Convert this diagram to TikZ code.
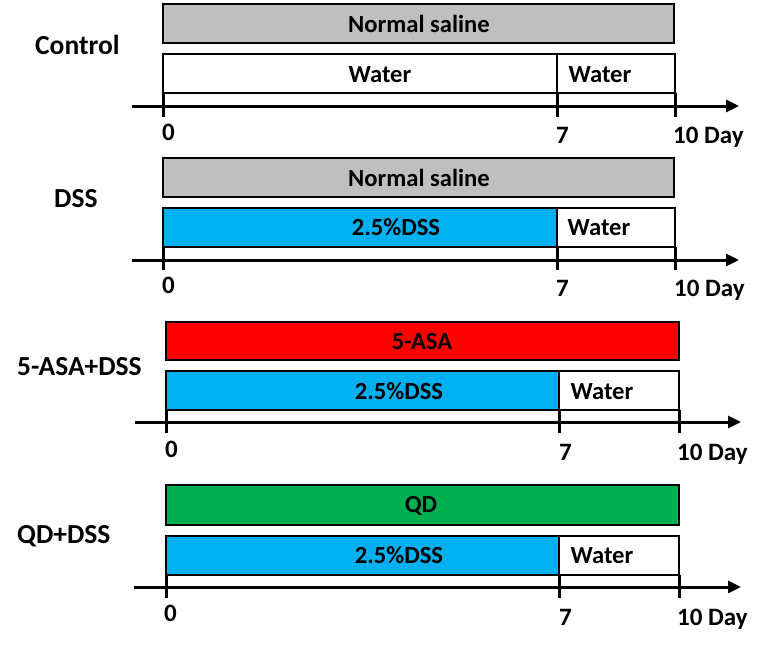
\documentclass[tikz,border=0pt]{standalone}
\usepackage{fontspec}
\setmainfont{Carlito}
\usetikzlibrary{arrows.meta}
\definecolor{salgray}{RGB}{191,191,191}
\definecolor{dssblue}{RGB}{0,176,240}
\definecolor{asared}{RGB}{255,0,0}
\definecolor{qdgreen}{RGB}{0,176,80}
\tikzset{
  bar/.style={draw=black, line width=2.8pt},
  lbl/.style={font=\fontsize{24.6}{28}\selectfont\bfseries, inner sep=0, anchor=base},
  grp/.style={font=\fontsize{27.5}{30}\selectfont\bfseries, inner sep=0, anchor=base west},
  tlbl/.style={font=\fontsize{25}{28}\selectfont\bfseries, inner sep=0, anchor=base west},
  axisline/.style={line width=3pt, -{Triangle[length=13pt,width=12pt]}},
  tickline/.style={line width=3pt},
}
\begin{document}
\begin{tikzpicture}[x=1pt,y=-1pt]
\useasboundingbox (0,0) rectangle (762,648);

% ---------------- Panel 1: Control
\filldraw[bar, fill=salgray] (163,4) rectangle (674,43);
\filldraw[bar, fill=white] (163,54) rectangle (675,93);
\draw[bar] (557,54) -- (557,93);
\coordinate (a1s) at (132,106); \coordinate (a1e) at (739,106);
\draw[axisline] (a1s) -- (a1e);
\foreach \x/\n in {163/0,557/7,675/10}{
  \coordinate (p1t\n) at (\x,93); \coordinate (p1b\n) at (\x,117);
  \draw[tickline] (p1t\n) -- (p1b\n);
}
\node[lbl] (p1sal) at (419,32) {Normal saline};
\node[lbl] (p1w1) at (380,82) {Water};
\node[lbl] (p1w2) at (600,82) {Water};
\node[grp] (g1) at (35,54) {Control};
\node[tlbl] (p1l0) at (162,140) {0};
\node[tlbl] (p1l7) at (556,143) {7};
\node[tlbl] (p1l10) at (673,143) {10 Day};

% ---------------- Panel 2: DSS
\filldraw[bar, fill=salgray] (163,158) rectangle (674,197);
\filldraw[bar, fill=dssblue] (163,208) rectangle (557,247);
\filldraw[bar, fill=white] (557,208) rectangle (675,247);
\coordinate (a2s) at (132,260); \coordinate (a2e) at (739,260);
\draw[axisline] (a2s) -- (a2e);
\foreach \x/\n in {163/0,557/7,675/10}{
  \coordinate (p2t\n) at (\x,247); \coordinate (p2b\n) at (\x,270);
  \draw[tickline] (p2t\n) -- (p2b\n);
}
\node[lbl] (p2sal) at (419,186) {Normal saline};
\node[lbl] (p2d) at (396,235) {2.5\%DSS};
\node[lbl] (p2w2) at (599,235) {Water};
\node[grp] (g2) at (54,207) {DSS};
\node[tlbl] (p2l0) at (162,293) {0};
\node[tlbl] (p2l7) at (556,296) {7};
\node[tlbl] (p2l10) at (674,296) {10 Day};

% ---------------- Panel 3: 5-ASA+DSS
\filldraw[bar, fill=asared] (166,322) rectangle (679,360);
\filldraw[bar, fill=dssblue] (166,371) rectangle (559,410);
\filldraw[bar, fill=white] (559,371) rectangle (679,410);
\coordinate (a3s) at (135,422); \coordinate (a3e) at (741,422);
\draw[axisline] (a3s) -- (a3e);
\foreach \x/\n in {166/0,559/7,679/10}{
  \coordinate (p3t\n) at (\x,410); \coordinate (p3b\n) at (\x,433);
  \draw[tickline] (p3t\n) -- (p3b\n);
}
\node[lbl] (p3asa) at (422,349) {5-ASA};
\node[lbl] (p3d) at (399,399) {2.5\%DSS};
\node[lbl] (p3w2) at (602,399) {Water};
\node[grp] (g3) at (17,375) {5-ASA+DSS};
\node[tlbl] (p3l0) at (165,457) {0};
\node[tlbl] (p3l7) at (559,460) {7};
\node[tlbl] (p3l10) at (677,460) {10 Day};

% ---------------- Panel 4: QD+DSS
\filldraw[bar, fill=qdgreen] (166,485) rectangle (679,525);
\filldraw[bar, fill=dssblue] (166,536) rectangle (559,575);
\filldraw[bar, fill=white] (559,536) rectangle (679,575);
\coordinate (a4s) at (134,587); \coordinate (a4e) at (741,587);
\draw[axisline] (a4s) -- (a4e);
\foreach \x/\n in {166/0,559/7,679/10}{
  \coordinate (p4t\n) at (\x,575); \coordinate (p4b\n) at (\x,598);
  \draw[tickline] (p4t\n) -- (p4b\n);
}
\node[lbl] (p4qd) at (421,512) {QD};
\node[lbl] (p4d) at (399,563) {2.5\%DSS};
\node[lbl] (p4w2) at (602,563) {Water};
\node[grp] (g4) at (17,543) {QD+DSS};
\node[tlbl] (p4l0) at (164,621) {0};
\node[tlbl] (p4l7) at (559,625) {7};
\node[tlbl] (p4l10) at (677,625) {10 Day};
\end{tikzpicture}
\end{document}
